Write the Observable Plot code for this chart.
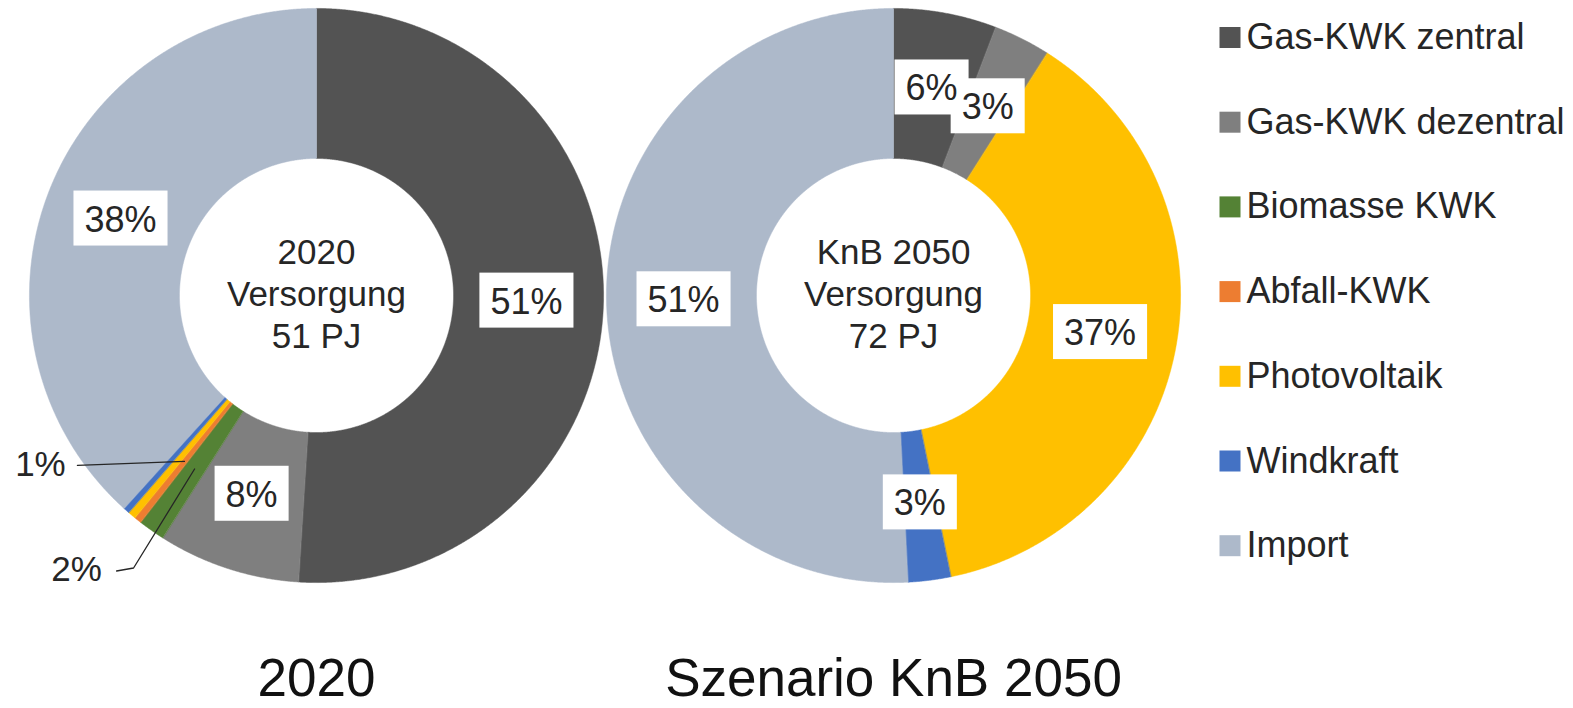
<!DOCTYPE html>
<html><head><meta charset="utf-8">
<script src="https://cdn.jsdelivr.net/npm/d3@7"></script>
<script src="https://cdn.jsdelivr.net/npm/@observablehq/plot@0.6"></script>
<style>
html,body{margin:0;padding:0;background:#fff;}
#chart{width:1573px;height:708px;overflow:hidden;}
</style></head><body><div id="chart"></div>
<script>
// ---- data ----
const categories = ["Gas-KWK zentral","Gas-KWK dezentral","Biomasse KWK","Abfall-KWK","Photovoltaik","Windkraft","Import"];
const colors = ["#535353","#7f7f7f","#548235","#ed7d31","#ffc000","#4472c4","#adb9ca"];
const values2020 = [51.0, 8.0, 1.5, 0.4, 0.45, 0.35, 38.3];
const values2050 = [5.8, 3.2, 0, 0, 37.8, 2.4, 50.8];
const labels2020 = ["51%","8%","2%","1%","","","38%"];
const labels2050 = ["6%","3%","","","37%","3%","51%"];
const centerTexts = ["2020\nVersorgung\n51 PJ","KnB 2050\nVersorgung\n72 PJ"];
const titles = ["2020","Szenario KnB 2050"];
const leaderCategories2020 = ["Biomasse KWK","Abfall-KWK"];

// ---- layout ----
const W = 1573, H = 708, K = 288.5, CX0 = 316, CY0 = 295;
const R_OUT = 0.995, R_IN = 0.475, R_LAB = 0.728, R_MID = (R_OUT + R_IN) / 2;
const FONT = "'Liberation Sans', Arial, Helvetica, sans-serif";
const TXT = "#262626";
const px = v => v / K;

const donuts = [
  {values: values2020, labels: labels2020, cx: 0, center: centerTexts[0], title: titles[0], leaders: leaderCategories2020},
  {values: values2050, labels: labels2050, cx: 2, center: centerTexts[1], title: titles[1], leaders: []}
];
// leader geometry (pixel offsets from slice anchor point; +y downward)
const leaderShapes = {
  "Abfall-KWK": {path: [[0,0],[-107,4]], text: [-144,3]},
  "Biomasse KWK": {path: [[0,0],[-61,99],[-78,102]], text: [-118,101]}
};

const pt = (cx, r, a) => [cx + r * Math.sin(a), r * Math.cos(a)];
const slicePts = [], boxLabels = [], leaderPts = [], leaderTexts = [];
donuts.forEach((d, di) => {
  const total = d3.sum(d.values);
  let acc = 0;
  d.values.forEach((v, i) => {
    const a0 = acc / total * 2 * Math.PI; acc += v;
    const a1 = acc / total * 2 * Math.PI;
    if (v <= 0) return;
    const id = di + "-" + i, cat = categories[i];
    const n = Math.max(2, Math.ceil((a1 - a0) / 0.004));
    for (let j = 0; j <= n; j++) { const [x, y] = pt(d.cx, R_OUT, a0 + (a1 - a0) * j / n); slicePts.push({id, cat, x, y}); }
    for (let j = n; j >= 0; j--) { const [x, y] = pt(d.cx, R_IN, a0 + (a1 - a0) * j / n); slicePts.push({id, cat, x, y}); }
    const am = (a0 + a1) / 2;
    const lab = d.labels[i];
    if (!lab) return;
    if (d.leaders.includes(cat)) {
      const [ex, ey] = pt(d.cx, R_MID, am);
      const s = leaderShapes[cat];
      s.path.forEach(([ox, oy]) => leaderPts.push({id, x: ex + px(ox), y: ey - px(oy)}));
      leaderTexts.push({x: ex + px(s.text[0]), y: ey - px(s.text[1]), text: lab});
    } else {
      const [x, y] = pt(d.cx, R_LAB, am);
      boxLabels.push({x, y, text: lab});
    }
  });
});
const centers = donuts.map(d => ({x: d.cx, y: px(3), text: d.center}));
const titleData = donuts.map(d => ({x: d.cx, y: -px(679 - CY0), text: d.title}));
const legend = categories.map((c, i) => ({cat: c, x: px(1229.5 - CX0), tx: px(1246 - CX0), y: -px(37 + i * 84.7 - CY0)}));

const chart = Plot.plot({
  width: W, height: H, margin: 0,
  x: {domain: [-CX0 / K, (W - CX0) / K], axis: null},
  y: {domain: [-(H - CY0) / K, CY0 / K], axis: null},
  color: {domain: categories, range: colors},
  style: {fontFamily: FONT, background: "#fff"},
  marks: [
    Plot.line(slicePts, {x: "x", y: "y", z: "id", fill: "cat", stroke: "cat", strokeWidth: 0.5, curve: "linear-closed"}),
    Plot.line(leaderPts, {x: "x", y: "y", z: "id", stroke: TXT, strokeWidth: 1.3}),
    Plot.text(leaderTexts, {x: "x", y: "y", text: "text", fontSize: 35, fill: TXT}),
    Plot.text(boxLabels, {x: "x", y: "y", text: "text", fontSize: 36, fill: TXT}),
    Plot.text(centers, {x: "x", y: "y", text: "text", fontSize: 35, lineHeight: 1.2, fill: TXT}),
    Plot.text(titleData, {x: "x", y: "y", text: "text", fontSize: 53, fill: "#111"}),
    Plot.dot(legend, {x: "x", y: "y", fill: "cat", symbol: "square", r: 11.85}),
    Plot.text(legend, {x: "tx", y: "y", text: "cat", textAnchor: "start", fontSize: 36, fill: TXT})
  ]
});
document.getElementById("chart").appendChild(chart);

// white boxes behind percentage labels
const boxTexts = new Set(boxLabels.map(d => d.text));
const groups = Array.from(chart.querySelectorAll("g")).filter(g =>
  g.getAttribute("font-size") === "36" &&
  Array.from(g.children).length === boxLabels.length &&
  Array.from(g.children).every(t => t.tagName.toLowerCase() === "text" && boxTexts.has(t.textContent))
);
const g = groups[0];
if (g) {
  const sr = chart.getBoundingClientRect();
  const bg = document.createElementNS("http://www.w3.org/2000/svg", "g");
  g.querySelectorAll("text").forEach(t => {
    const b = t.getBoundingClientRect();
    const cx = b.left - sr.left + b.width / 2, cy = b.top - sr.top + b.height / 2;
    const r = document.createElementNS("http://www.w3.org/2000/svg", "rect");
    const w = b.width + 22, h = 55;
    r.setAttribute("x", cx - w / 2); r.setAttribute("y", cy - h / 2 - 1);
    r.setAttribute("width", w); r.setAttribute("height", h);
    r.setAttribute("fill", "#fff");
    bg.appendChild(r);
  });
  g.parentNode.insertBefore(bg, g);
}
</script></body></html>
